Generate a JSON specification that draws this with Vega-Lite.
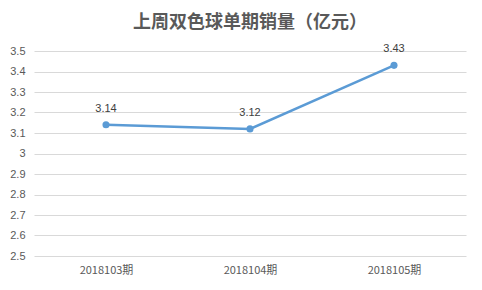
{
  "$schema": "https://vega.github.io/schema/vega-lite/v6.json",
  "width": 432,
  "height": 205,
  "autosize": {"type": "none"},
  "padding": {"left": 34, "top": 51, "right": 16, "bottom": 34},
  "background": "white",
  "title": {
    "text": "上周双色球单期销量（亿元）",
    "font": "Noto Sans CJK SC",
    "fontSize": 18,
    "fontWeight": "bold",
    "color": "#595959",
    "anchor": "middle",
    "offset": 11
  },
  "data": {
    "values": [
      {"period": "2018103期", "sales": 3.14},
      {"period": "2018104期", "sales": 3.12},
      {"period": "2018105期", "sales": 3.43}
    ]
  },
  "encoding": {
    "x": {
      "field": "period",
      "type": "nominal",
      "sort": null,
      "title": null,
      "axis": {
        "labelAngle": 0,
        "ticks": false,
        "domain": false,
        "labelFont": "Noto Sans CJK SC",
        "labelFontSize": 11,
        "labelColor": "#595959",
        "labelPadding": 8
      }
    },
    "y": {
      "field": "sales",
      "type": "quantitative",
      "scale": {"domain": [2.5, 3.5], "nice": false, "zero": false},
      "title": null,
      "axis": {
        "values": [2.5, 2.6, 2.7, 2.8, 2.9, 3, 3.1, 3.2, 3.3, 3.4, 3.5],
        "format": ".1~f",
        "ticks": false,
        "domain": false,
        "gridColor": "#D9D9D9",
        "gridWidth": 1,
        "labelFont": "Liberation Sans",
        "labelFontSize": 11,
        "labelColor": "#595959",
        "labelPadding": 9
      }
    }
  },
  "layer": [
    {
      "mark": {"type": "line", "color": "#5B9BD5", "strokeWidth": 2.5, "point": {"filled": true, "size": 50, "color": "#5B9BD5"}}
    },
    {
      "mark": {"type": "text", "dy": -16, "font": "Liberation Sans", "fontSize": 11, "color": "#404040"},
      "encoding": {"text": {"field": "sales", "type": "quantitative", "format": ".2f"}}
    }
  ],
  "config": {
    "view": {"stroke": null}
  }
}
